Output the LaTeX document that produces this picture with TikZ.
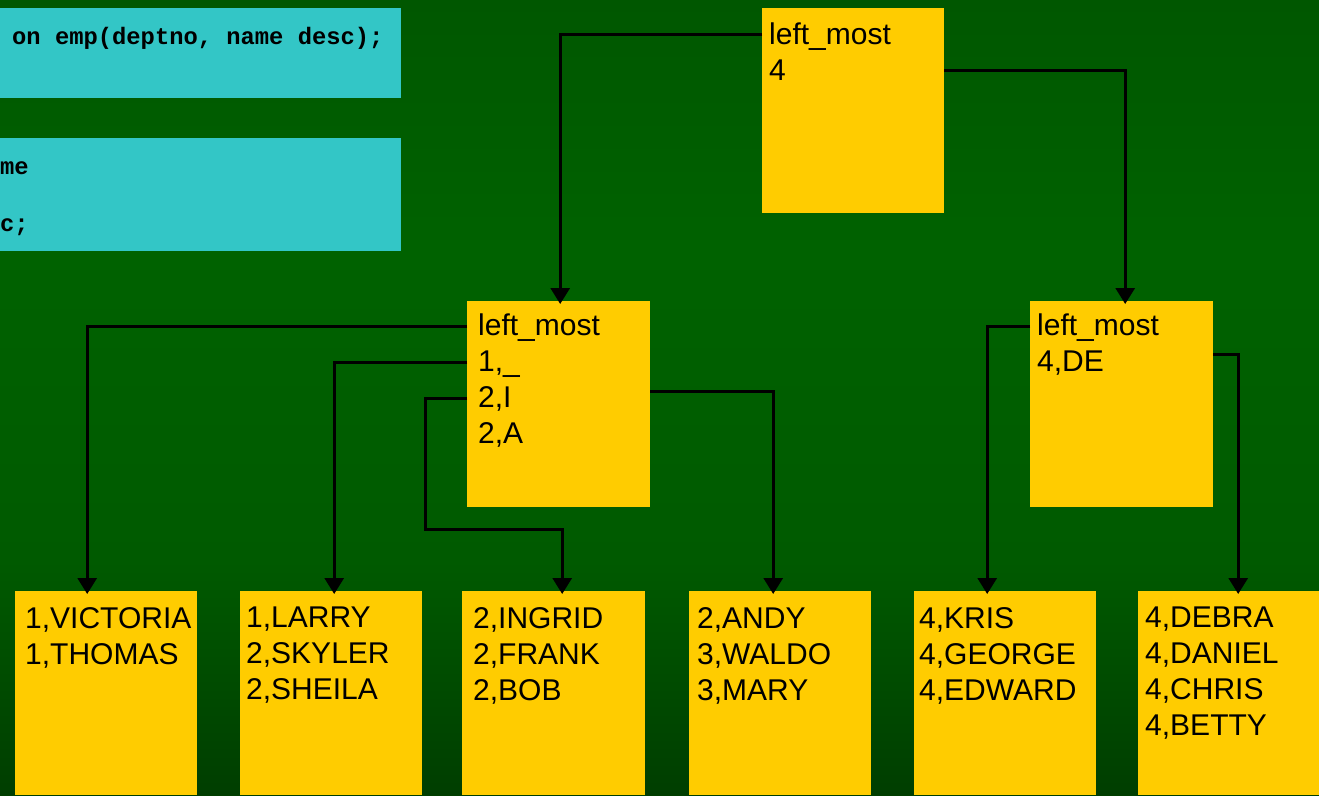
\documentclass[tikz,border=0pt]{standalone}
\usepackage{fontspec}
\setmainfont{Liberation Sans}
\newfontfamily\codefont{Liberation Mono}
\usetikzlibrary{arrows.meta,calc}
\definecolor{bgA}{HTML}{005700}
\definecolor{bgB}{HTML}{006200}
\definecolor{bgC}{HTML}{005A00}
\definecolor{bgD}{HTML}{003E00}
\definecolor{gold}{HTML}{FFCC00}
\definecolor{aqua}{HTML}{33C6C6}
\tikzset{
  blk/.style={fill=gold, draw=none, anchor=north west, inner sep=0pt},
  codebox/.style={fill=aqua, draw=none, anchor=north west, inner sep=0pt},
  txt/.style={anchor=north west, align=left, inner sep=0pt,
    font=\fontsize{30}{36}\selectfont},
  code/.style={inner sep=0pt, font=\codefont\bfseries\fontsize{23.8}{28}\selectfont},
  conn/.style={line width=3pt, draw=black},
  arr/.style={conn, -{Triangle[width=19pt,length=16pt]}, shorten >=-3pt}
}
\begin{document}
\begin{tikzpicture}[x=1pt,y=-1pt]
\useasboundingbox (0,0) rectangle (1319,795);
% background
\shade[top color=bgA, bottom color=bgB] (0,0) rectangle (1319,251);
\shade[top color=bgB, bottom color=bgC] (0,250) rectangle (1319,561);
\shade[top color=bgC, bottom color=bgD] (0,560) rectangle (1319,795);

% cyan code boxes
\node[codebox, minimum width=401pt, minimum height=90pt] (c1) at (0,8) {};
\node[code, anchor=base west] (c1t) at (12,44) {on emp(deptno, name desc);};
\node[codebox, minimum width=401pt, minimum height=113pt] (c2) at (0,138) {};
\node[code, anchor=base west] (c2a) at (0,174) {me};
\node[code, anchor=base west] (c2b) at (0,231) {c;};

% root
\node[blk, minimum width=182pt, minimum height=205pt] (top) at (762,8) {};
\node[txt] (topt) at ($(top.north west)+(7,15)$) {left\_most\\4};

% branch blocks
\node[blk, minimum width=183pt, minimum height=206pt] (ml) at (467,301) {};
\node[txt] (mlt) at ($(ml.north west)+(11,13)$) {left\_most\\1,\_\\2,I\\2,A};
\node[blk, minimum width=183pt, minimum height=206pt] (mr) at (1030,301) {};
\node[txt] (mrt) at ($(mr.north west)+(7,13)$) {left\_most\\4,DE};

% leaf blocks
\node[blk, minimum width=182pt, minimum height=204pt] (L1) at (15,591) {};
\node[txt] (L1t) at ($(L1.north west)+(10,16)$) {1,VICTORIA\\1,THOMAS};
\node[blk, minimum width=182pt, minimum height=204pt] (L2) at (240,591) {};
\node[txt] (L2t) at ($(L2.north west)+(6,16)$) {1,LARRY\\2,SKYLER\\2,SHEILA};
\node[blk, minimum width=183pt, minimum height=204pt] (L3) at (462,591) {};
\node[txt] (L3t) at ($(L3.north west)+(11,16)$) {2,INGRID\\2,FRANK\\2,BOB};
\node[blk, minimum width=182pt, minimum height=204pt] (L4) at (689,591) {};
\node[txt] (L4t) at ($(L4.north west)+(8,16)$) {2,ANDY\\3,WALDO\\3,MARY};
\node[blk, minimum width=182pt, minimum height=204pt] (L5) at (914,591) {};
\node[txt] (L5t) at ($(L5.north west)+(5,16)$) {4,KRIS\\4,GEORGE\\4,EDWARD};
\node[blk, minimum width=181pt, minimum height=204pt] (L6) at (1138,591) {};
\node[txt] (L6t) at ($(L6.north west)+(7,16)$) {4,DEBRA\\4,DANIEL\\4,CHRIS\\4,BETTY};

% connectors
\coordinate (b1) at (425,529);
\draw[arr] ([yshift=-26pt]top.north west) -| ([xshift=1.5pt]ml.north);
\draw[arr] ([yshift=-62pt]top.north east) -| ([xshift=3.5pt]mr.north);
\draw[arr] ([yshift=-25pt]ml.north west) -| ([xshift=-19pt]L1.north);
\draw[arr] ([yshift=-61pt]ml.north west) -| ([xshift=3pt]L2.north);
\draw[arr] ([yshift=-97pt]ml.north west) -| (b1) -| ([xshift=8.5pt]L3.north);
\draw[arr] ([yshift=-90pt]ml.north east) -| ([xshift=-7pt]L4.north);
\draw[arr] ([yshift=-25pt]mr.north west) -| ([xshift=-18pt]L5.north);
\draw[arr] ([yshift=-53pt]mr.north east) -| ([xshift=9.5pt]L6.north);
\end{tikzpicture}
\end{document}
